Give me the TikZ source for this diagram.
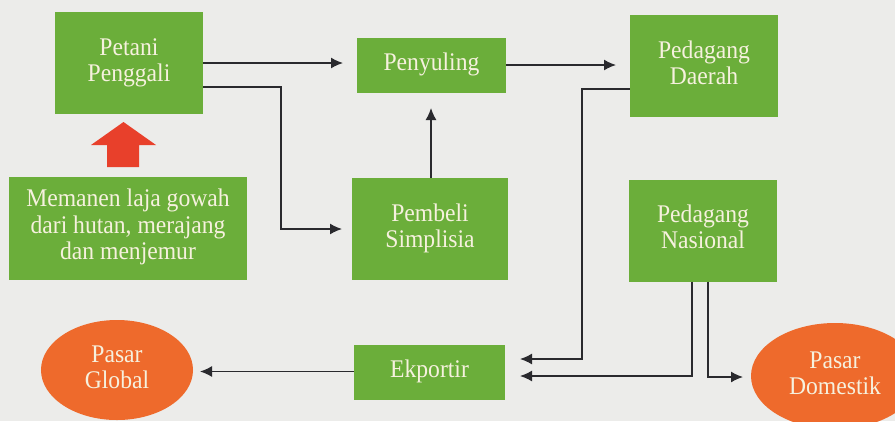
\documentclass[tikz,border=0pt]{standalone}
\usepackage{fontspec}
\newfontfamily\libserif[FakeStretch=0.93]{Liberation Serif}
\usetikzlibrary{arrows.meta,shapes.geometric}
\definecolor{bg}{HTML}{ECECEA}
\definecolor{boxgreen}{HTML}{6BAE3A}
\definecolor{ovalorange}{HTML}{EE6A2C}
\definecolor{arrred}{HTML}{E8402B}
\definecolor{txt}{HTML}{F6F1DE}
\definecolor{wire}{HTML}{2A2A2E}
\newcommand\lbl[1]{\libserif\fontsize{25.5}{26.5}\selectfont\begin{tabular}{@{}c@{}}#1\end{tabular}}
\tikzset{
  gbox/.style={rectangle, fill=boxgreen, text=txt, inner sep=0pt},
  oval/.style={ellipse, fill=ovalorange, text=txt, inner sep=0pt},
  conn/.style={draw=wire, line width=1.4bp, -{Latex[length=12bp,width=11bp]}},
}
\begin{document}
\begin{tikzpicture}[x=1bp,y=-1bp]
\useasboundingbox (0,0) rectangle (895,421);
\fill[bg] (0,0) rectangle (895,421);

\node[gbox, minimum width=148bp, minimum height=102bp] (petani) at (129,63) {\lbl{Petani\\Penggali}};
\node[gbox, minimum width=149bp, minimum height=55bp] (penyuling) at (431.5,65) {\lbl{Penyuling}};
\node[gbox, minimum width=148bp, minimum height=102bp] (daerah) at (704,66) {\lbl{Pedagang\\Daerah}};
\node[gbox, minimum width=237bp, minimum height=103bp] (memanen) at (128,228) {\lbl{Memanen laja gowah\\dari hutan, merajang\\dan menjemur}};
\node[gbox, minimum width=156bp, minimum height=102bp] (pembeli) at (430,229) {\lbl{Pembeli\\Simplisia}};
\node[gbox, minimum width=148bp, minimum height=102bp] (nasional) at (703,230.5) {\lbl{Pedagang\\Nasional}};
\node[gbox, minimum width=151bp, minimum height=55bp] (ekportir) at (429.5,372.5) {\lbl{Ekportir}};
\node[oval, minimum width=152bp, minimum height=100bp] (global) at (117,370) {\lbl{Pasar\\Global}};
\node[oval, minimum width=168bp, minimum height=106bp] (domestik) at (835,376) {\lbl{Pasar\\Domestik}};

% red up arrow
\fill[arrred] (107,167) -- (107,145) -- (91,145) -- (123.5,122) -- (156,145) -- (139,145) -- (139,167) -- cycle;

% connectors
\coordinate (c1) at (343,63);
\draw[conn] (petani.east |- c1) -- (c1);
\coordinate (c2) at (342,229);
\draw[conn] (petani.east |- 0,87) -- (281,87) -- (281,229) -- (c2);
\coordinate (c3) at (431,108);
\draw[conn] (pembeli.north -| c3) -- (c3);
\coordinate (c4) at (616,65);
\draw[conn] (penyuling.east |- c4) -- (c4);
\coordinate (c5) at (520,359);
\draw[conn] (daerah.west |- 0,89) -- (582,89) -- (582,359) -- (c5);
\coordinate (c6) at (520,376);
\draw[conn] (nasional.south -| 692,0) -- (692,376) -- (c6);
\coordinate (c7) at (743,377);
\draw[conn] (nasional.south -| 708,0) -- (708,377) -- (c7);
\coordinate (c8) at (200,371.5);
\draw[conn] (ekportir.west |- c8) -- (c8);
\end{tikzpicture}
\end{document}
